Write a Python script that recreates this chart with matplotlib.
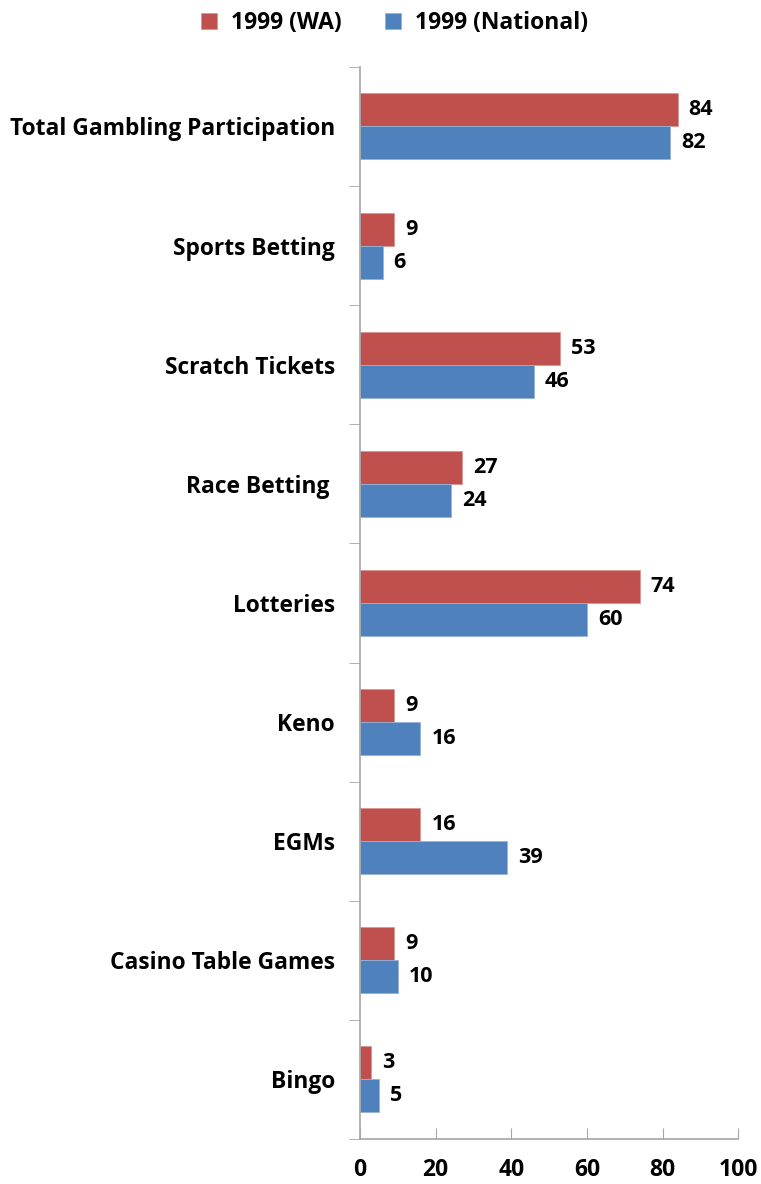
import matplotlib
matplotlib.use("Agg")
import matplotlib.pyplot as plt
import numpy as np

plt.rcParams['font.family'] = ['Open Sans', 'DejaVu Sans']
plt.rcParams['font.weight'] = 'bold'

# Participation rates (%) by gambling activity
categories = ["Total Gambling Participation", "Sports Betting", "Scratch Tickets",
              "Race Betting ", "Lotteries", "Keno", "EGMs", "Casino Table Games", "Bingo"]
wa_1999 = [84, 9, 53, 27, 74, 9, 16, 9, 3]
national_1999 = [82, 6, 46, 24, 60, 16, 39, 10, 5]
series_names = ["1999 (WA)", "1999 (National)"]
x_ticks = [0, 20, 40, 60, 80, 100]

RED = "#C0504D"
BLUE = "#4F81BD"
AXIS_GRAY = "#A6A6A6"

fig = plt.figure(figsize=(7.61, 11.84), dpi=100)
ax = fig.add_axes([0.473, 0.038, 0.497, 0.9055])

y = np.arange(len(categories))
h = 0.277
b1 = ax.barh(y - h / 2, wa_1999, height=h, color=RED, edgecolor="#D99694", linewidth=0.6)
b2 = ax.barh(y + h / 2, national_1999, height=h, color=BLUE, edgecolor="#95B3D7", linewidth=0.6)

for bars, vals in ((b1, wa_1999), (b2, national_1999)):
    for bar, v in zip(bars, vals):
        ax.text(v + 2.9, bar.get_y() + bar.get_height() / 2, str(v),
                va="center", ha="left", fontsize=15.5, fontweight="bold")

ax.set_ylim(len(categories) - 0.5, -0.5)
ax.set_xlim(0, 100)
ax.set_xticks(x_ticks)
ax.set_xticklabels([str(t) for t in x_ticks], fontsize=16.5, fontweight="bold")

# category labels centred, tick marks at the category boundaries
ax.set_yticks(y)
ax.set_yticklabels(categories, fontsize=16.4, fontweight="bold")
ax.tick_params(axis="y", which="major", length=0, pad=18)
ax.set_yticks(np.arange(-0.5, len(categories)), minor=True)
ax.tick_params(axis="y", which="minor", length=8, color=AXIS_GRAY, direction="out")
ax.tick_params(axis="x", length=8, color=AXIS_GRAY, direction="in", pad=14)

for s in ("top", "right"):
    ax.spines[s].set_visible(False)
for s in ("left", "bottom"):
    ax.spines[s].set_color(AXIS_GRAY)
    ax.spines[s].set_linewidth(1.2)

fig.legend([b1, b2], series_names, loc="upper center", bbox_to_anchor=(0.518, 1.008),
           ncol=2, frameon=False, handlelength=0.7, handleheight=0.7,
           columnspacing=1.9, handletextpad=0.6, prop={"weight": "bold", "size": 16.5})

fig.savefig("out.png", dpi=100)
